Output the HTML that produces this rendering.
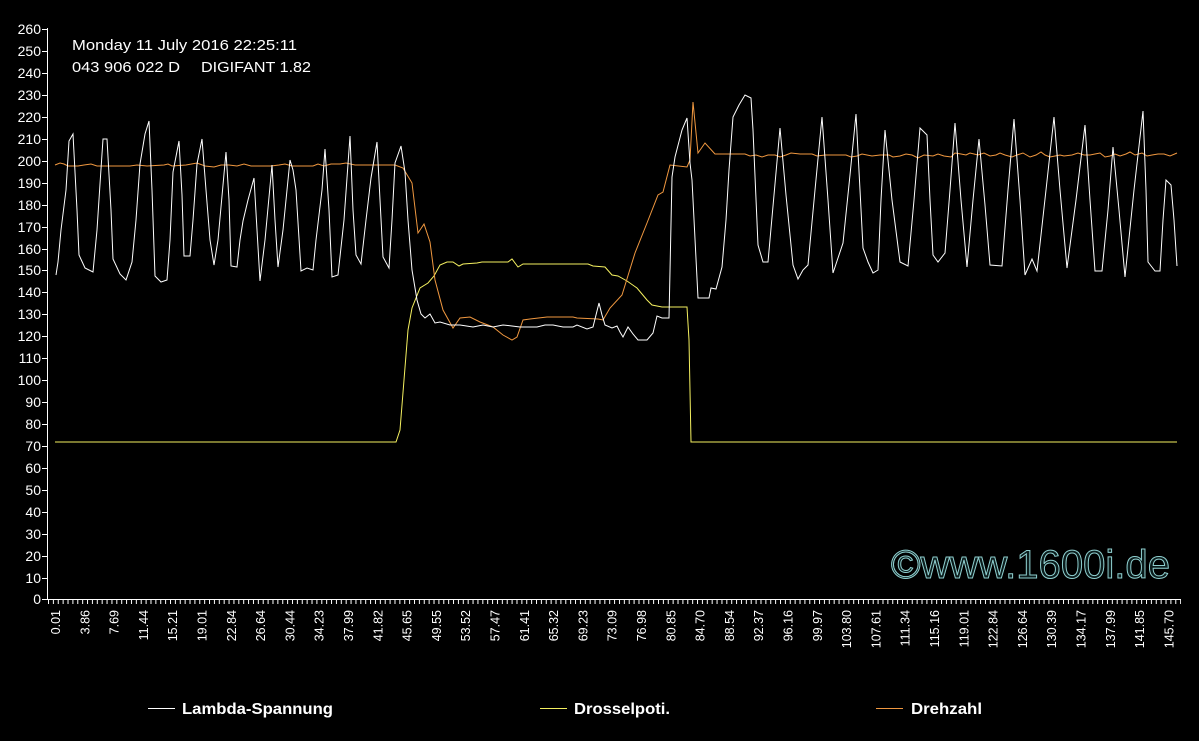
<!DOCTYPE html>
<html><head><meta charset="utf-8"><style>
html,body{margin:0;padding:0;background:#000;}
svg{display:block}
text{font-family:"Liberation Sans",sans-serif;}
</style></head><body>
<svg width="1199" height="741" viewBox="0 0 1199 741" xmlns="http://www.w3.org/2000/svg">
<defs>
<pattern id="xt" x="48" y="599" width="4.88" height="6" patternUnits="userSpaceOnUse">
<rect x="0" y="0" width="1" height="5" fill="#fff"/>
</pattern>
</defs>
<rect width="1199" height="741" fill="#000"/>
<line x1="47.5" y1="28" x2="47.5" y2="599.5" stroke="#fff" stroke-width="1"/>
<line x1="47" y1="599.5" x2="1181" y2="599.5" stroke="#fff" stroke-width="1"/>
<rect x="48" y="599" width="1133" height="5" fill="url(#xt)"/>
<g stroke="#fff" stroke-width="1">
<line x1="42" x2="47" y1="29.5" y2="29.5"/><line x1="42" x2="47" y1="51.5" y2="51.5"/><line x1="42" x2="47" y1="73.5" y2="73.5"/><line x1="42" x2="47" y1="95.5" y2="95.5"/><line x1="42" x2="47" y1="117.5" y2="117.5"/><line x1="42" x2="47" y1="139.5" y2="139.5"/><line x1="42" x2="47" y1="161.5" y2="161.5"/><line x1="42" x2="47" y1="183.5" y2="183.5"/><line x1="42" x2="47" y1="205.5" y2="205.5"/><line x1="42" x2="47" y1="227.5" y2="227.5"/><line x1="42" x2="47" y1="249.5" y2="249.5"/><line x1="42" x2="47" y1="270.5" y2="270.5"/><line x1="42" x2="47" y1="292.5" y2="292.5"/><line x1="42" x2="47" y1="314.5" y2="314.5"/><line x1="42" x2="47" y1="336.5" y2="336.5"/><line x1="42" x2="47" y1="358.5" y2="358.5"/><line x1="42" x2="47" y1="380.5" y2="380.5"/><line x1="42" x2="47" y1="402.5" y2="402.5"/><line x1="42" x2="47" y1="424.5" y2="424.5"/><line x1="42" x2="47" y1="446.5" y2="446.5"/><line x1="42" x2="47" y1="468.5" y2="468.5"/><line x1="42" x2="47" y1="490.5" y2="490.5"/><line x1="42" x2="47" y1="512.5" y2="512.5"/><line x1="42" x2="47" y1="534.5" y2="534.5"/><line x1="42" x2="47" y1="556.5" y2="556.5"/><line x1="42" x2="47" y1="578.5" y2="578.5"/><line x1="42" x2="47" y1="599.5" y2="599.5"/>
</g>
<g fill="#fff" font-size="14" text-anchor="end">
<text x="41" y="34">260</text><text x="41" y="56">250</text><text x="41" y="78">240</text><text x="41" y="100">230</text><text x="41" y="122">220</text><text x="41" y="144">210</text><text x="41" y="166">200</text><text x="41" y="188">190</text><text x="41" y="210">180</text><text x="41" y="232">170</text><text x="41" y="254">160</text><text x="41" y="275">150</text><text x="41" y="297">140</text><text x="41" y="319">130</text><text x="41" y="341">120</text><text x="41" y="363">110</text><text x="41" y="385">100</text><text x="41" y="407">90</text><text x="41" y="429">80</text><text x="41" y="451">70</text><text x="41" y="473">60</text><text x="41" y="495">50</text><text x="41" y="517">40</text><text x="41" y="539">30</text><text x="41" y="561">20</text><text x="41" y="583">10</text><text x="41" y="604">0</text>
</g>
<g fill="#fff" font-size="12.5" text-anchor="end">
<text transform="translate(60,610) rotate(-90)">0.01</text>
<text transform="translate(89.3,610) rotate(-90)">3.86</text>
<text transform="translate(118.6,610) rotate(-90)">7.69</text>
<text transform="translate(147.9,610) rotate(-90)">11.44</text>
<text transform="translate(177.2,610) rotate(-90)">15.21</text>
<text transform="translate(206.5,610) rotate(-90)">19.01</text>
<text transform="translate(235.8,610) rotate(-90)">22.84</text>
<text transform="translate(265.1,610) rotate(-90)">26.64</text>
<text transform="translate(294.4,610) rotate(-90)">30.44</text>
<text transform="translate(323.7,610) rotate(-90)">34.23</text>
<text transform="translate(353,610) rotate(-90)">37.99</text>
<text transform="translate(382.3,610) rotate(-90)">41.82</text>
<text transform="translate(411.6,610) rotate(-90)">45.65</text>
<text transform="translate(440.9,610) rotate(-90)">49.55</text>
<text transform="translate(470.2,610) rotate(-90)">53.52</text>
<text transform="translate(499.5,610) rotate(-90)">57.47</text>
<text transform="translate(528.8,610) rotate(-90)">61.41</text>
<text transform="translate(558.1,610) rotate(-90)">65.32</text>
<text transform="translate(587.4,610) rotate(-90)">69.23</text>
<text transform="translate(616.7,610) rotate(-90)">73.09</text>
<text transform="translate(646,610) rotate(-90)">76.98</text>
<text transform="translate(675.3,610) rotate(-90)">80.85</text>
<text transform="translate(704.6,610) rotate(-90)">84.70</text>
<text transform="translate(733.9,610) rotate(-90)">88.54</text>
<text transform="translate(763.2,610) rotate(-90)">92.37</text>
<text transform="translate(792.5,610) rotate(-90)">96.16</text>
<text transform="translate(821.8,610) rotate(-90)">99.97</text>
<text transform="translate(851.1,610) rotate(-90)">103.80</text>
<text transform="translate(880.4,610) rotate(-90)">107.61</text>
<text transform="translate(909.7,610) rotate(-90)">111.34</text>
<text transform="translate(939,610) rotate(-90)">115.16</text>
<text transform="translate(968.3,610) rotate(-90)">119.01</text>
<text transform="translate(997.6,610) rotate(-90)">122.84</text>
<text transform="translate(1026.9,610) rotate(-90)">126.64</text>
<text transform="translate(1056.2,610) rotate(-90)">130.39</text>
<text transform="translate(1085.5,610) rotate(-90)">134.17</text>
<text transform="translate(1114.8,610) rotate(-90)">137.99</text>
<text transform="translate(1144.1,610) rotate(-90)">141.85</text>
<text transform="translate(1173.4,610) rotate(-90)">145.70</text>
</g>
<g fill="#fff" font-size="15">
<text x="72" y="50" textLength="225" lengthAdjust="spacingAndGlyphs">Monday 11 July 2016 22:25:11</text>
<text x="72" y="72" textLength="108" lengthAdjust="spacingAndGlyphs">043 906 022 D</text>
<text x="201" y="72" textLength="110" lengthAdjust="spacingAndGlyphs">DIGIFANT 1.82</text>
</g>
<text x="891" y="578" font-size="40" fill="#0b1c1c" stroke="#8fcfcf" stroke-width="1" textLength="279" lengthAdjust="spacingAndGlyphs">©www.1600i.de</text>
<polyline fill="none" stroke="#f4f060" stroke-width="1" points="55,442 396,442 400,430 404,380 408,330 412,308 420,288 428,283 434,276 440,265 447,262 453,262 459,266 463,264 477,263 482,262 508,262 512,259 518,267 523,264 588,264 593,266 605,267 612,275 618,276 627,281 637,288 647,300 652,305 662,307 687,307 689,340 691,442 1177,442"/>
<polyline fill="none" stroke="#f09840" stroke-width="1" points="55,165 60,163 64,164 68,166 78,166 84,165 91,164 97,166 130,166 137,165 147,166 164,165 168,164 172,166 186,165 197,163 205,166 214,167 221,165 229,165 237,166 244,164 251,166 271,166 279,165 285,164 292,166 313,166 318,164 324,166 331,164 340,164 346,163 355,165 390,165 395,165 403,168 412,183 418,233 424,224 430,242 435,280 443,310 453,328 460,318 470,317 480,322 493,327 503,335 512,340 517,337 523,320 530,319 547,317 573,317 577,318 598,319 603,320 610,308 622,295 635,253 647,223 658,195 663,192 670,165 687,167 690,160 693,102 698,153 705,143 715,154 745,154 750,156 756,155 762,157 768,155 775,155 780,157 786,155 791,153 800,154 812,154 817,156 825,155 846,155 851,157 857,156 862,154 872,156 880,155 889,155 893,157 900,156 906,154 912,155 918,158 924,155 933,156 938,154 944,156 951,157 955,153 961,154 966,155 970,153 978,155 984,153 990,156 996,155 1000,153 1005,155 1012,157 1017,155 1023,153 1030,157 1036,155 1041,152 1045,155 1050,157 1055,156 1060,155 1064,156 1072,155 1078,153 1084,155 1090,155 1095,154 1100,153 1105,157 1110,156 1115,154 1120,156 1126,154 1130,152 1135,155 1142,153 1147,156 1152,155 1158,154 1164,154 1170,156 1177,153"/>
<polyline fill="none" stroke="#fff" stroke-width="1" points="56,275 58,262 61,230 66,190 69,141 73,134 77,210 79,255 85,268 91,271 93,272 97,230 100,184 103,139 107,139 111,210 113,259 120,274 126,280 132,262 136,220 140,164 145,134 149,121 152,190 155,276 161,282 167,280 170,240 173,172 179,141 182,195 184,256 190,256 193,220 197,164 202,139 206,190 210,240 214,265 218,240 226,152 229,200 231,266 237,267 240,240 243,221 248,200 254,178 257,230 260,281 265,240 272,165 275,220 278,267 283,230 290,160 293,170 296,190 301,271 307,268 313,270 316,240 322,190 325,149 329,210 332,277 338,275 344,220 350,136 353,210 356,255 361,264 366,220 371,178 377,142 380,200 383,257 389,268 392,220 395,163 401,146 405,172 408,220 412,270 417,300 421,314 425,318 430,314 435,323 440,322 450,325 460,325 473,327 483,325 493,327 503,325 512,326 520,327 537,327 545,325 553,325 563,327 573,327 577,325 587,329 593,327 596,315 599,303 602,315 605,325 612,328 617,326 620,332 623,337 628,327 633,334 638,340 647,340 653,333 657,316 662,318 669,318 672,177 675,157 682,130 687,118 690,163 692,180 698,298 709,298 711,288 716,289 722,267 726,220 729,170 733,117 739,105 745,95 751,98 753,130 758,245 763,262 768,262 774,195 780,128 786,195 793,265 798,279 803,270 808,265 815,190 822,117 828,200 833,273 838,258 843,243 850,175 856,114 860,190 863,248 868,262 873,273 878,270 881,200 885,130 892,200 900,262 908,266 914,200 920,128 927,135 930,200 933,255 938,262 945,253 950,190 955,123 961,200 967,267 973,200 979,139 985,205 990,265 1002,266 1008,190 1014,119 1020,200 1025,275 1032,259 1037,271 1046,190 1054,117 1060,190 1067,268 1076,200 1085,125 1090,200 1095,271 1102,271 1108,210 1113,147 1119,210 1125,277 1134,190 1143,111 1146,190 1148,262 1155,271 1160,271 1163,220 1166,180 1171,185 1174,220 1177,266"/>
<line x1="148" y1="708.5" x2="175" y2="708.5" stroke="#fff"/>
<text x="182" y="714" font-size="16" font-weight="bold" fill="#fff" textLength="151" lengthAdjust="spacingAndGlyphs">Lambda-Spannung</text>
<line x1="540" y1="708.5" x2="567" y2="708.5" stroke="#f4f060"/>
<text x="574" y="714" font-size="16" font-weight="bold" fill="#fff" textLength="96" lengthAdjust="spacingAndGlyphs">Drosselpoti.</text>
<line x1="876" y1="708.5" x2="903" y2="708.5" stroke="#f09840"/>
<text x="911" y="714" font-size="16" font-weight="bold" fill="#fff" textLength="71" lengthAdjust="spacingAndGlyphs">Drehzahl</text>
</svg>
</body></html>
